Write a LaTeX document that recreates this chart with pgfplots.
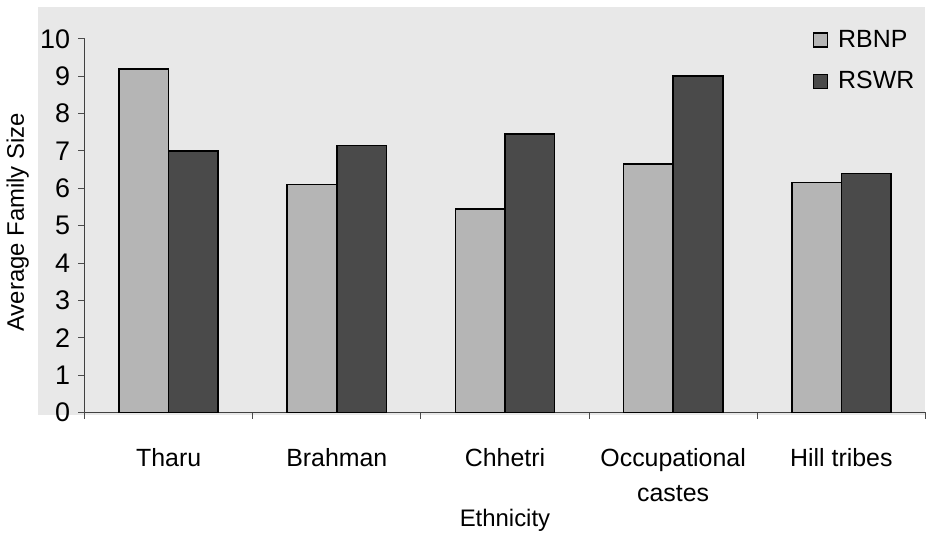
\documentclass[border=0pt]{standalone}
\usepackage{pgfplots}
\pgfplotsset{compat=1.18}
\usepackage{fontspec}
\setmainfont{Liberation Sans}
\definecolor{bggray}{HTML}{E8E8E8}
\definecolor{rbnp}{HTML}{B5B5B5}
\definecolor{rswr}{HTML}{4A4A4A}

\begin{document}
\begin{tikzpicture}
\begin{axis}[
  set layers,
  scale only axis, width=422pt, height=187.5pt,
  clip=false,
  ymin=0, ymax=10, ytick={0,...,10},
  xmin=-0.5, xmax=4.5,
  axis x line*=bottom, axis y line*=left,
  axis line style={black!75, line width=0.6pt},
  tick align=outside,
  tick style={black!70, line width=0.5pt},
  major tick length=3.2pt,
  xtick={-0.5,0.5,...,4.5},
  x tick label as interval,
  xticklabels={Tharu,Brahman,Chhetri,{Occupational\\castes},Hill tribes},
  xticklabel style={align=center, font=\fontsize{12.5}{17.5}\selectfont, yshift=-11.3pt},
  yticklabel style={font=\fontsize{13.5}{15}\selectfont, xshift=-0.5pt},
  /pgf/number format/assume math mode=true,
  ylabel={Average Family Size},
  ylabel style={at={(axis description cs:-0.0794,0.509)}, anchor=center, font=\fontsize{12}{14}\selectfont},
  xlabel={Ethnicity},
  xlabel style={at={(axis description cs:0.5,-0.288)}, anchor=center, font=\fontsize{12}{14}\selectfont},
  ybar=0pt, bar width=0.295,
  legend image code/.code={\draw[#1, line width=0.6pt] (0pt,-3.5pt) rectangle (7pt,3.5pt);},
  legend style={draw=none, fill=none, at={(rel axis cs:0.866,1.0357)}, anchor=north west,
    font=\fontsize{12.5}{14}\selectfont, row sep=6.5pt, inner sep=0pt,
    /tikz/every odd column/.append style={column sep=3pt}},
  legend cell align=left,
]
\begin{pgfonlayer}{axis background}
  \fill[bggray] (rel axis cs:-0.0557,-0.008) rectangle (rel axis cs:1,1.0853);
\end{pgfonlayer}
\path (rel axis cs:-0.0972,-0.312) rectangle (rel axis cs:1,1.104);

% RBNP
\addplot[draw=black, line width=0.8pt, fill=rbnp] coordinates {(0,9.2) (1,6.1) (2,5.45) (3,6.65) (4,6.15)};
% RSWR
\addplot[draw=black, line width=0.8pt, fill=rswr] coordinates {(0,7.0) (1,7.15) (2,7.45) (3,9.0) (4,6.4)};
\legend{RBNP, RSWR}
\end{axis}
\end{tikzpicture}
\end{document}
